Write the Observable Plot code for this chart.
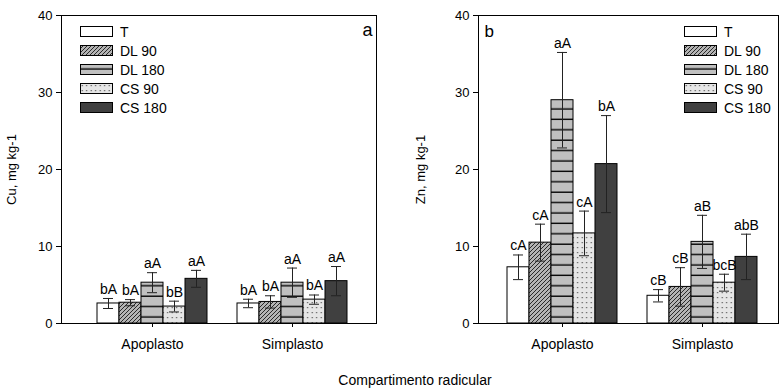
<!DOCTYPE html>
<html><head><meta charset="utf-8">
<script src="https://cdn.jsdelivr.net/npm/d3@7"></script>
<script src="https://cdn.jsdelivr.net/npm/@observablehq/plot@0.6"></script>
<style>
body{margin:0;background:#fff;font-family:"Liberation Sans",Arial,sans-serif;}
#wrap{position:relative;width:779px;height:390px;overflow:hidden;background:#fff}
.panel{position:absolute;top:0;height:360px}
.panel svg{position:absolute;left:0;top:0}
.legend{position:absolute;top:0;font-size:14px;color:#000}
.legend .row{position:absolute;left:0;height:19px;white-space:nowrap}
.legend svg{position:absolute;left:0}
.legend span{position:absolute;line-height:14px}
#xtitle{position:absolute;left:0;width:830px;top:372px;text-align:center;font-size:14px;color:#000}
</style></head><body>
<svg width="0" height="0" style="position:absolute">
<defs>
<pattern id="p-dl90" patternUnits="userSpaceOnUse" width="4" height="4">
<rect width="4" height="4" fill="#b4b4b4"/>
<path d="M-1,1 l2,-2 M0,4 l4,-4 M3,5 l2,-2" stroke="#2a2a2a" stroke-width="1"/>
</pattern>
<pattern id="p-dl180" patternUnits="userSpaceOnUse" width="10" height="10.4">
<rect width="10" height="10.4" fill="#c0c0c0"/>
<line x1="0" x2="10" y1="5" y2="5" stroke="#000" stroke-width="1.4"/>
</pattern>
<pattern id="p-cs90" patternUnits="userSpaceOnUse" width="4.5" height="5">
<rect width="4.5" height="5" fill="#e6e6e6"/>
<rect x="1.6" y="2" width="1.2" height="1.2" fill="#555"/>
</pattern>
</defs></svg>
<div id="wrap">
<div id="pa" class="panel" style="left:0;width:390px"></div>
<div id="pb" class="panel" style="left:390px;width:389px"></div>
<div id="la" class="legend" style="left:80px"></div>
<div id="lb" class="legend" style="left:684px"></div>
<div id="xtitle"></div>
</div>
<script>
const compartments = ["Apoplasto", "Simplasto"];
const treatments = ["T", "DL 90", "DL 180", "CS 90", "CS 180"];
const cuMean = [[2.6, 2.7, 5.3, 2.2, 5.8], [2.6, 2.8, 5.3, 3.1, 5.5]];
const cuErr = [[0.65, 0.4, 1.3, 0.7, 1.1], [0.55, 0.8, 1.9, 0.6, 1.9]];
const cuLetters = [["bA", "bA", "aA", "bB", "aA"], ["bA", "bA", "aA", "bA", "aA"]];
const znMean = [[7.3, 10.5, 29.0, 11.7, 20.7], [3.6, 4.75, 10.6, 5.3, 8.65]];
const znErr = [[1.6, 2.4, 6.2, 2.9, 6.3], [0.8, 2.5, 3.45, 1.1, 2.95]];
const znLetters = [["cA", "cA", "aA", "cA", "bA"], ["cB", "cB", "aB", "bcB", "abB"]];
const yTicks = [0, 10, 20, 30, 40];
const yLabels = ["Cu, mg kg-1", "Zn, mg kg-1"];
const panelTags = ["a", "b"];
const xTitle = "Compartimento radicular";

const fills = {"T": "#ffffff", "DL 90": "url(#p-dl90)", "DL 180": "url(#p-dl180)", "CS 90": "url(#p-cs90)", "CS 180": "#404040"};
const FONT = "'Liberation Sans', Arial, sans-serif";

function rowsOf(mean, err, letters) {
  const out = [];
  compartments.forEach((c, i) => treatments.forEach((t, j) => {
    out.push({comp: c, trt: t, mean: mean[i][j], err: err[i][j], letter: letters[i][j]});
  }));
  return out;
}

function panel(o) {
  const rows = o.rows;
  const common = {
    width: o.width, height: 360,
    marginLeft: o.marginLeft, marginRight: o.marginRight, marginTop: 15, marginBottom: 37,
    style: {fontFamily: FONT, fontSize: "13px", color: "#000", background: "transparent", overflow: "visible"}
  };
  const bars = Plot.plot({
    ...common,
    y: {domain: [0, 40], axis: null},
    x: {domain: treatments, padding: 0, axis: null},
    fx: {domain: compartments, paddingInner: 0.2, paddingOuter: o.padOuter, align: o.align, label: null},
    color: {type: "identity"},
    marks: [
      Plot.barY(rows, {fx: "comp", x: "trt", y: "mean", fill: d => fills[d.trt], stroke: "#000", strokeWidth: 1, inset: 0}),
      Plot.ruleX(rows, {fx: "comp", x: "trt", y1: d => d.mean - d.err, y2: d => d.mean + d.err, stroke: "#222", strokeWidth: 1}),
      Plot.tickY(rows, {fx: "comp", x: "trt", y: d => d.mean + d.err, insetLeft: 6, insetRight: 6, stroke: "#222", strokeWidth: 1}),
      Plot.tickY(rows, {fx: "comp", x: "trt", y: d => d.mean - d.err, insetLeft: 6, insetRight: 6, stroke: "#222", strokeWidth: 1}),
      Plot.text(rows, {fx: "comp", x: "trt", y: d => d.mean + d.err, text: "letter", dy: -9, fontSize: 14}),
      Plot.axisFx({anchor: "bottom", tickSize: 4, tickPadding: 12, fontSize: 14, label: null})
    ]
  });
  const axis = Plot.plot({
    ...common,
    y: {domain: [0, 40]},
    marks: [
      Plot.frame({stroke: "#000", strokeWidth: 1}),
      Plot.axisY(yTicks, {tickSize: 5, tickPadding: 4, fontSize: 13, label: o.ylabel, labelAnchor: "center", labelOffset: o.labelOffset, labelArrow: "none"}),
      Plot.text([o.tag], {frameAnchor: o.tagAnchor, dx: o.tagDx, dy: o.tagDy, fontSize: o.tagSize})
    ]
  });
  return [bars, axis];
}

const rowsA = rowsOf(cuMean, cuErr, cuLetters);
const rowsB = rowsOf(znMean, znErr, znLetters);

document.getElementById("pa").append(...panel({rows: rowsA, width: 390, marginLeft: 61, marginRight: 14, padOuter: 0.225, align: 0.556, ylabel: yLabels[0], labelOffset: 55, tag: panelTags[0], tagAnchor: "top-right", tagDx: -4, tagDy: 8, tagSize: 18}));
document.getElementById("pb").append(...panel({rows: rowsB, width: 389, marginLeft: 88, marginRight: 1, padOuter: 0.171, align: 0.583, ylabel: yLabels[1], labelOffset: 63, tag: panelTags[1], tagAnchor: "top-left", tagDx: 6, tagDy: 9, tagSize: 17}));

function legend(id) {
  const el = document.getElementById(id);
  treatments.forEach((t, i) => {
    const row = document.createElement("div");
    row.className = "row";
    row.style.top = (26 + i * 18.9) + "px";
    row.innerHTML = `<svg width="33" height="11"><rect x="0.5" y="0.5" width="32" height="10" fill="${fills[t]}" stroke="#000" stroke-width="1"/></svg><span style="left:40px;top:-1px">${t}</span>`;
    el.append(row);
  });
}
legend("la");
legend("lb");
document.getElementById("xtitle").textContent = xTitle;
</script>
</body></html>
